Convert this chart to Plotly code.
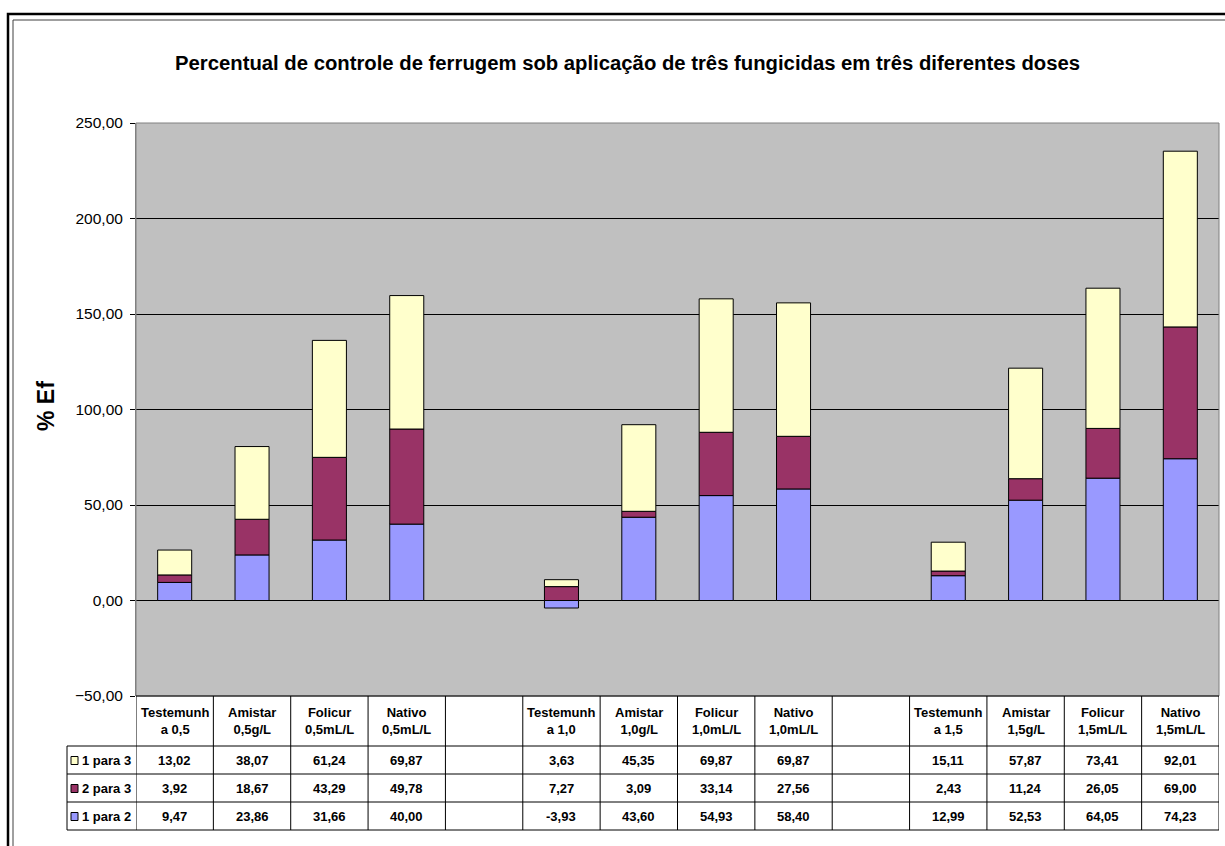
import plotly.graph_objects as go

# ---------------- data ----------------
header_labels = ["Testemunh<br>a 0,5", "Amistar<br>0,5g/L", "Folicur<br>0,5mL/L", "Nativo<br>0,5mL/L", "",
                 "Testemunh<br>a 1,0", "Amistar<br>1,0g/L", "Folicur<br>1,0mL/L", "Nativo<br>1,0mL/L", "",
                 "Testemunh<br>a 1,5", "Amistar<br>1,5g/L", "Folicur<br>1,5mL/L", "Nativo<br>1,5mL/L"]
positions = list(range(len(header_labels)))

s_1para2 = [9.47, 23.86, 31.66, 40.00, None, -3.93, 43.60, 54.93, 58.40, None, 12.99, 52.53, 64.05, 74.23]
s_2para3 = [3.92, 18.67, 43.29, 49.78, None, 7.27, 3.09, 33.14, 27.56, None, 2.43, 11.24, 26.05, 69.00]
s_1para3 = [13.02, 38.07, 61.24, 69.87, None, 3.63, 45.35, 69.87, 69.87, None, 15.11, 57.87, 73.41, 92.01]

series_names = ["1 para 2", "2 para 3", "1 para 3"]
series_vals = [s_1para2, s_2para3, s_1para3]
series_colors = ["#9999FF", "#993366", "#FFFFCC"]

title_text = "Percentual de controle de ferrugem sob aplicação de três fungicidas em três diferentes doses"
y_title = "% Ef"

# ---------------- layout geometry (pixels) ----------------
W, H = 1225, 846
L, R, T, B = 136, 1219, 123, 696
PW, PH = R - L, B - T

def px(x):
    return (x - L) / PW

def py(y):
    return (B - y) / PH

FONT = "Liberation Sans, Arial, sans-serif"

fig = go.Figure()
for name, vals, col in zip(series_names, series_vals, series_colors):
    fig.add_trace(go.Bar(x=positions, y=vals, name=name, marker=dict(color=col, line=dict(color="black", width=1)),
                         showlegend=False))

shapes = []
annotations = []

# outer double frame
shapes.append(dict(type="rect", xref="paper", yref="paper", x0=px(8), x1=px(1240), y0=py(870), y1=py(14),
                   line=dict(color="black", width=2.5), layer="below"))
shapes.append(dict(type="rect", xref="paper", yref="paper", x0=px(13), x1=px(1235), y0=py(865), y1=py(20),
                   line=dict(color="#404040", width=1), layer="below"))

# plot area border (gray)
shapes.append(dict(type="rect", xref="paper", yref="paper", x0=0, x1=1, y0=0, y1=1,
                   line=dict(color="#808080", width=1), layer="above"))

# data table
row_tops = [696, 746, 774, 802, 830]
n = len(positions)
for i in range(n + 1):
    shapes.append(dict(type="line", xref="x", yref="paper", x0=i - 0.5, x1=i - 0.5, y0=py(696), y1=py(830),
                       line=dict(color="black", width=1)))
shapes.append(dict(type="line", xref="paper", yref="paper", x0=px(67), x1=px(67), y0=py(746), y1=py(830),
                   line=dict(color="black", width=1)))
shapes.append(dict(type="line", xref="paper", yref="paper", x0=0, x1=1, y0=py(696), y1=py(696),
                   line=dict(color="black", width=1)))
for yy in row_tops[1:]:
    shapes.append(dict(type="line", xref="paper", yref="paper", x0=px(67), x1=1, y0=py(yy), y1=py(yy),
                       line=dict(color="black", width=1)))

CELL = 13
for p, lab in zip(positions, header_labels):
    if lab:
        annotations.append(dict(x=p, y=py(721), xref="x", yref="paper", text="<b>" + lab + "</b>",
                                showarrow=False, font=dict(family=FONT, size=CELL, color="black"),
                                xanchor="center", yanchor="middle"))

table_order = [2, 1, 0]
for r, si in enumerate(table_order):
    yc = (row_tops[r + 1] + row_tops[r + 2]) / 2
    shapes.append(dict(type="rect", xref="paper", yref="paper", x0=px(71), x1=px(78), y0=py(yc + 4.5), y1=py(yc - 3.5),
                       fillcolor=series_colors[si], line=dict(color="black", width=1)))
    annotations.append(dict(x=px(80), y=py(yc), xref="paper", yref="paper", text="<b>" + series_names[si] + "</b>",
                            showarrow=False, font=dict(family=FONT, size=CELL, color="black"),
                            xanchor="left", yanchor="middle"))
    for p, v in zip(positions, series_vals[si]):
        if v is None:
            continue
        annotations.append(dict(x=p, y=py(yc), xref="x", yref="paper",
                                text="<b>" + f"{v:.2f}".replace(".", ",") + "</b>",
                                showarrow=False, font=dict(family=FONT, size=CELL, color="black"),
                                xanchor="center", yanchor="middle"))

annotations.append(dict(x=px(627), y=py(63), xref="paper", yref="paper", text="<b>" + title_text + "</b>",
                        showarrow=False, font=dict(family=FONT, size=20.3, color="black"),
                        xanchor="center", yanchor="middle"))
annotations.append(dict(x=px(46), y=py(406), xref="paper", yref="paper", text="<b>" + y_title + "</b>",
                        showarrow=False, textangle=-90, font=dict(family=FONT, size=23, color="black"),
                        xanchor="center", yanchor="middle"))

fig.update_layout(
    width=W, height=H,
    margin=dict(l=L, r=W - R, t=T, b=H - B, pad=0),
    paper_bgcolor="white",
    plot_bgcolor="#C0C0C0",
    barmode="relative",
    bargap=0.56,
    separators=",.",
    shapes=shapes,
    annotations=annotations,
    font=dict(family=FONT, color="black"),
    xaxis=dict(range=[-0.5, n - 0.5], showticklabels=False, showgrid=False, zeroline=False,
               showline=False, ticks="", fixedrange=True),
    yaxis=dict(range=[-50, 250], dtick=50, tick0=0, tickformat=".2f", showgrid=True, gridcolor="black",
               gridwidth=1, zeroline=True, zerolinecolor="black", zerolinewidth=1,
               showline=True, linecolor="#808080", linewidth=1, ticks="outside", ticklen=5,
               tickcolor="black", ticklabelstandoff=4,
               tickfont=dict(family=FONT, size=15.5, color="black"), fixedrange=True),
)

fig.write_html("out.html", config={"displayModeBar": False},
               post_script="document.body.style.margin='0';document.body.style.overflow='hidden';")
